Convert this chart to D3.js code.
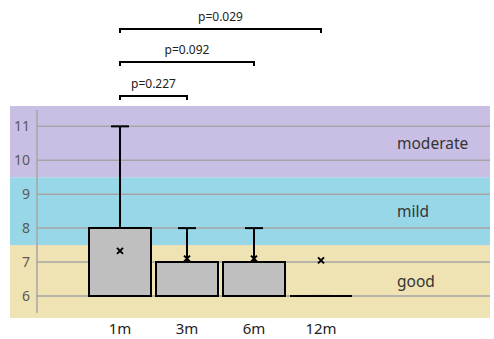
<!DOCTYPE html>
<html>
<head>
<meta charset="utf-8">
<script src="https://cdn.jsdelivr.net/npm/d3@7"></script>
<style>
  body { margin: 0; background: #fff; }
  svg text { font-family: "Noto Sans", "Open Sans", sans-serif; }
</style>
</head>
<body>
<div id="chart"></div>
<script>
// data
var categories = ["1m", "3m", "6m", "12m"];
var minVals    = [6, 6, 6, 6];
var q1Vals     = [6, 6, 6, 6];
var medVals    = [6, 6, 6, 6];
var q3Vals     = [8, 7, 7, 6];
var maxVals    = [11, 8, 8, 6];
var meanVals   = [7.33, 7.1, 7.1, 7.05];

var yTicks = [6, 7, 8, 9, 10, 11];

var bandNames  = ["good", "mild", "moderate"];
var bandFrom   = [5.35, 7.5, 9.5];
var bandTo     = [7.5, 9.5, 11.6];
var bandColors = ["#EFE3B3", "#98D7E7", "#C9BFE5"];

var pairs  = [["1m", "3m"], ["1m", "6m"], ["1m", "12m"]];
var pTexts = ["p=0.227", "p=0.092", "p=0.029"];
var pLevel = [96, 62, 29];

var width = 494, height = 339;
var svg = d3.select("#chart").append("svg")
  .attr("width", width).attr("height", height);

var y = d3.scaleLinear().domain([5.35, 11.6]).range([318, 106]);
var x = d3.scalePoint().domain(categories).range([120, 321]);
var boxW = 62, capW = 18;

// coloured bands
svg.selectAll("rect.band")
  .data(bandNames)
  .enter().append("rect")
  .attr("class", "band")
  .attr("x", 10)
  .attr("width", 480)
  .attr("y", function(d, i) { return y(bandTo[i]); })
  .attr("height", function(d, i) { return y(bandFrom[i]) - y(bandTo[i]); })
  .attr("fill", function(d, i) { return bandColors[i]; });

// grid lines
svg.selectAll("line.grid")
  .data(yTicks)
  .enter().append("line")
  .attr("x1", 37).attr("x2", 490)
  .attr("y1", function(d) { return y(d); })
  .attr("y2", function(d) { return y(d); })
  .attr("stroke", "#A5A5A5").attr("stroke-width", 1.5);

// y axis
var yAxis = svg.append("g")
  .attr("transform", "translate(37,0)")
  .call(d3.axisLeft(y).tickValues(yTicks).tickFormat(d3.format("d")).tickSize(0).tickPadding(7));
yAxis.select(".domain").remove();
yAxis.selectAll("text")
  .attr("fill", "#595959").attr("font-size", 14);
svg.append("line")
  .attr("x1", 37).attr("x2", 37).attr("y1", 110).attr("y2", 313)
  .attr("stroke", "#A5A5A5").attr("stroke-width", 1.5);

// band labels
svg.selectAll("text.bandlab")
  .data(bandNames)
  .enter().append("text")
  .attr("x", 397)
  .attr("y", function(d, i) { return y((bandFrom[i] + Math.min(bandTo[i], 11.5)) / 2); })
  .attr("dy", "0.35em")
  .attr("font-size", 15.5)
  .attr("fill", "#333")
  .text(function(d) { return d; });

// boxes
var g = svg.selectAll("g.box")
  .data(categories)
  .enter().append("g")
  .attr("class", "box");

g.append("line")
  .attr("x1", function(d) { return x(d); })
  .attr("x2", function(d) { return x(d); })
  .attr("y1", function(d, i) { return y(q3Vals[i]); })
  .attr("y2", function(d, i) { return y(maxVals[i]); })
  .attr("stroke", "#000").attr("stroke-width", 2);
g.append("line")
  .attr("x1", function(d) { return x(d) - capW / 2; })
  .attr("x2", function(d) { return x(d) + capW / 2; })
  .attr("y1", function(d, i) { return y(maxVals[i]); })
  .attr("y2", function(d, i) { return y(maxVals[i]); })
  .attr("stroke", "#000").attr("stroke-width", 2);

g.append("path")
  .attr("d", function(d, i) {
    var x0 = x(d) - boxW / 2, x1 = x(d) + boxW / 2;
    return "M" + x0 + "," + y(q1Vals[i]) + "H" + x1 + "V" + y(q3Vals[i]) + "H" + x0 + "Z";
  })
  .attr("fill", "#BFBFBF").attr("stroke", "#000").attr("stroke-width", 2);

// mean markers
g.append("path")
  .attr("d", function(d, i) {
    var cx = x(d), cy = y(meanVals[i]), s = 3;
    return "M" + (cx - s) + "," + (cy - s) + "L" + (cx + s) + "," + (cy + s) +
           "M" + (cx - s) + "," + (cy + s) + "L" + (cx + s) + "," + (cy - s);
  })
  .attr("stroke", "#000").attr("stroke-width", 2).attr("fill", "none");

// x labels
svg.selectAll("text.xlab")
  .data(categories)
  .enter().append("text")
  .attr("x", function(d) { return x(d); })
  .attr("y", 334)
  .attr("text-anchor", "middle")
  .attr("font-size", 15)
  .attr("fill", "#222")
  .text(function(d) { return d; });

// significance brackets
var br = svg.selectAll("g.bracket")
  .data(pairs)
  .enter().append("g");
br.append("path")
  .attr("d", function(d, i) {
    var a = x(d[0]), b = x(d[1]), yy = pLevel[i];
    return "M" + a + "," + (yy + 4) + "V" + yy + "H" + b + "V" + (yy + 4);
  })
  .attr("fill", "none").attr("stroke", "#000").attr("stroke-width", 2);
br.append("text")
  .attr("x", function(d) { return (x(d[0]) + x(d[1])) / 2; })
  .attr("y", function(d, i) { return pLevel[i] - 8; })
  .attr("text-anchor", "middle")
  .attr("font-size", 12)
  .attr("fill", "#222")
  .text(function(d, i) { return pTexts[i]; });
</script>
</body>
</html>
